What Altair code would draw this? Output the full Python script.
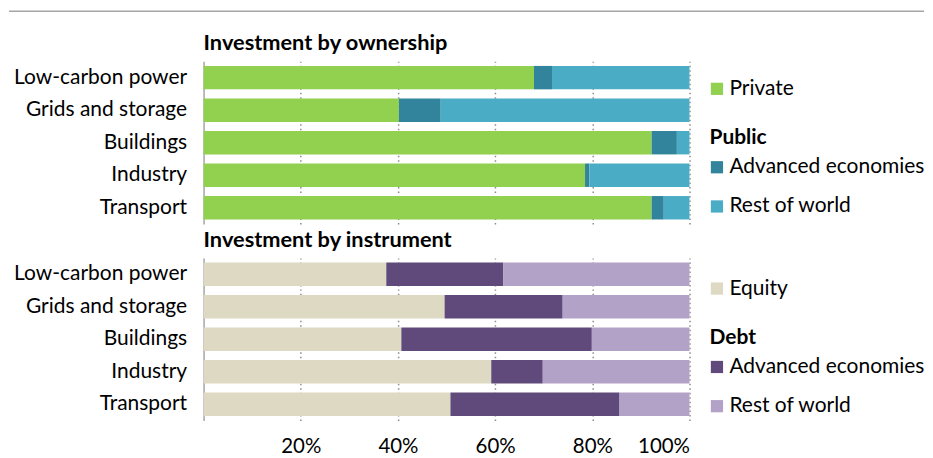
import altair as alt
import pandas as pd

FONT = "Lato"

sectors = ["Low-carbon power", "Grids and storage", "Buildings", "Industry", "Transport"]

own_private = [68.0, 40.2, 92.2, 78.5, 92.2]
own_public_adv = [3.7, 8.6, 5.2, 0.9, 2.5]
own_public_row = [28.3, 51.2, 2.6, 20.6, 5.3]

inst_equity = [37.6, 49.6, 40.7, 59.2, 50.8]
inst_debt_adv = [24.1, 24.3, 39.2, 10.6, 34.8]
inst_debt_row = [38.3, 26.1, 20.1, 30.2, 14.4]

own_series = ["Private", "Public: Advanced economies", "Public: Rest of world"]
inst_series = ["Equity", "Debt: Advanced economies", "Debt: Rest of world"]
own_colors = ["#92D050", "#31849B", "#4BACC6"]
inst_colors = ["#DDD9C3", "#604A7B", "#B3A2C7"]

title_top = "Investment by ownership"
title_bot = "Investment by instrument"

legend_top_labels = ["Private", "Public", "Advanced economies", "Rest of world"]
legend_bot_labels = ["Equity", "Debt", "Advanced economies", "Rest of world"]
legend_kinds = ["item", "header", "item", "item"]

tick_values = [0.2, 0.4, 0.6, 0.8, 1.0]

W, H, LW = 487, 163, 235


def long_table(series, columns):
    rows = []
    for si, (name, vals) in enumerate(zip(series, columns)):
        for sec, v in zip(sectors, vals):
            rows.append({"sector": sec, "series": name, "idx": si, "value": v})
    return pd.DataFrame(rows)


def bars(df, series, colors, title, show_labels):
    return (
        alt.Chart(df)
        .mark_bar()
        .encode(
            y=alt.Y(
                "sector:N",
                sort=sectors,
                title=None,
                scale=alt.Scale(paddingInner=0.28, paddingOuter=0.14),
                axis=alt.Axis(
                    labelFont=FONT,
                    labelFontSize=21,
                    labelColor="black",
                    labelPadding=17,
                    ticks=False,
                    grid=False,
                    domainColor="#a6a6a6",
                    domainWidth=1.5,
                    minExtent=195,
                    maxExtent=195,
                ),
            ),
            x=alt.X(
                "value:Q",
                stack="normalize",
                title=None,
                scale=alt.Scale(domain=[0, 1], nice=False),
                axis=alt.Axis(
                    values=tick_values,
                    format="%",
                    grid=True,
                    gridDash=[1.5, 3],
                    gridColor="#8c8c8c",
                    gridWidth=1.5,
                    ticks=False,
                    domain=False,
                    labels=show_labels,
                    labelFont=FONT,
                    labelFontSize=20.5,
                    labelColor="black",
                    labelPadding=16,
                ),
            ),
            color=alt.Color("series:N", scale=alt.Scale(domain=series, range=colors), legend=None),
            order=alt.Order("idx:Q"),
        )
        .properties(
            width=W,
            height=H,
            title=alt.TitleParams(
                title,
                anchor="start",
                frame="group",
                font=FONT,
                fontSize=21.8,
                fontWeight="bold",
                color="black",
                offset=-15.5,
                baseline="bottom",
            ),
        )
    )


def legend(labels, colors, with_rule, align):
    item_colors = [colors[0], "#ffffff", colors[1], colors[2]]
    df = pd.DataFrame(
        {"slot": [0, 1, 2, 3], "label": labels, "kind": legend_kinds, "color": item_colors}
    )
    yenc = alt.Y(
        "slot:O",
        axis=None,
        scale=alt.Scale(type="point", domain=[0, 1, 2, 3], padding=0.574, align=align),
    )
    base = alt.Chart(df)
    sq = (
        base.transform_filter("datum.kind == 'item'")
        .mark_square(size=150, opacity=1)
        .encode(x=alt.value(27.5), y=yenc, color=alt.Color("color:N", scale=None))
    )
    txt = (
        base.transform_filter("datum.kind == 'item'")
        .mark_text(align="left", baseline="middle", font=FONT, fontSize=21, color="black")
        .encode(x=alt.value(40), y=yenc, text="label:N")
    )
    hdr = (
        base.transform_filter("datum.kind == 'header'")
        .mark_text(align="left", baseline="middle", font=FONT, fontSize=21,
                   fontWeight="bold", color="black", dy=10)
        .encode(x=alt.value(20), y=yenc, text="label:N")
    )
    layers = [sq, txt, hdr]
    if with_rule:
        rule = (
            alt.Chart(pd.DataFrame({"k": [0]}))
            .mark_rule(color="#a6a6a6", strokeWidth=1.5)
            .encode(x=alt.value(-(195 + W)), x2=alt.value(LW), y=alt.value(-50.25))
        )
        layers.append(rule)
    return alt.layer(*layers).properties(width=LW, height=H)


own_df = long_table(own_series, [own_private, own_public_adv, own_public_row])
inst_df = long_table(inst_series, [inst_equity, inst_debt_adv, inst_debt_row])

row1 = alt.hconcat(
    bars(own_df, own_series, own_colors, title_top, False),
    legend(legend_top_labels, own_colors, True, 0.61),
    spacing=0,
    bounds="flush",
)
row2 = alt.hconcat(
    bars(inst_df, inst_series, inst_colors, title_bot, True),
    legend(legend_bot_labels, inst_colors, False, 0.68),
    spacing=0,
    bounds="flush",
)

chart = (
    alt.vconcat(row1, row2, spacing=5)
    .resolve_scale(color="independent")
    .properties(padding={"top": 2, "left": 0, "right": 0, "bottom": 0})
    .configure_view(stroke=None)
)

chart.save("out.html", embed_options={"renderer": "svg", "actions": False})
